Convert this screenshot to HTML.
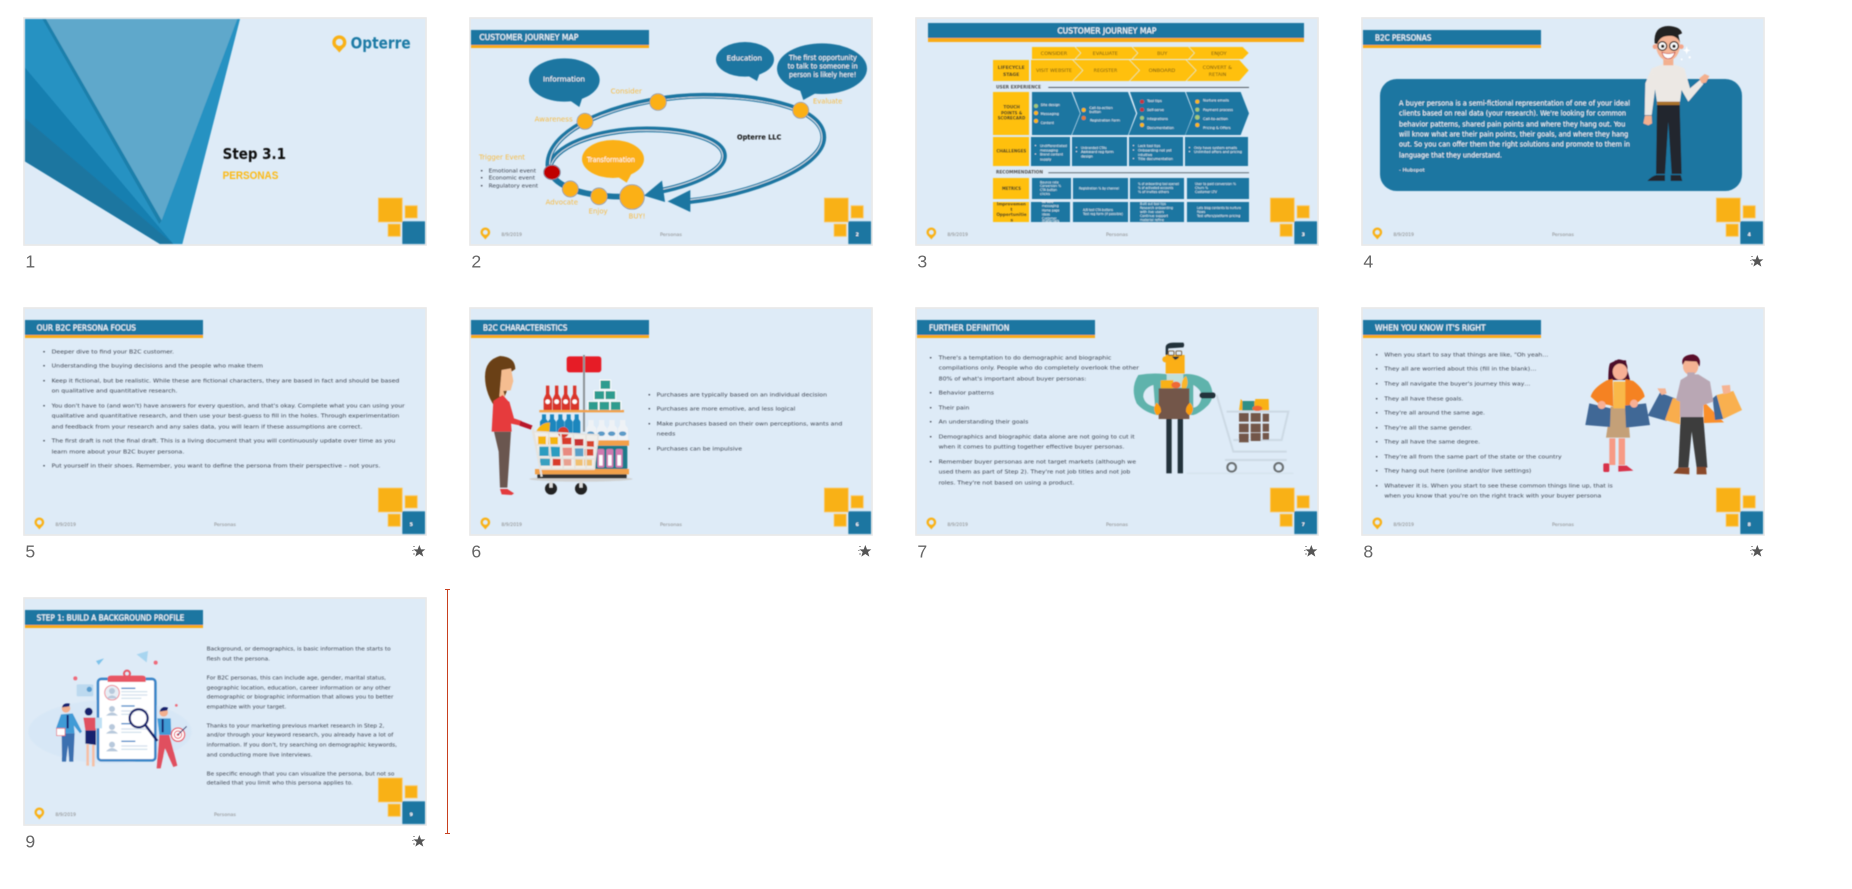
<!DOCTYPE html>
<html><head><meta charset="utf-8"><title>Slides</title>
<style>
html,body{margin:0;padding:0;background:#fff;width:1852px;height:889px;overflow:hidden}
svg{display:block}
text{font-family:"DejaVu Sans","Liberation Sans",sans-serif}
.b{font-size:17px;fill:#3c4350}
.t{font-size:24px;fill:#f2f8fc;stroke:#f2f8fc;stroke-width:.5}
.n{font-family:"Liberation Sans",sans-serif;font-size:53px;fill:#666}
.f{font-size:14px;fill:#888}
.o{font-size:22px;fill:#f7bb45}
.w{font-size:22px;fill:#fff}
.y{font-size:14px;fill:#6e5410}
.k{font-size:14px;fill:#3a3a20;font-weight:bold}
.c{font-size:11px;fill:#fff}
.g{font-size:14px;fill:#555;font-weight:bold}
</style></head><body>
<svg xmlns="http://www.w3.org/2000/svg" width="1852" height="889" viewBox="0 0 1852 889">
<defs>
<filter id="s" x="-2%" y="-2%" width="104%" height="104%"><feGaussianBlur stdDeviation="1.3"/></filter>
<g id="bg"><rect x="-3" y="-3" width="1206" height="681" fill="#deebf7" stroke="#e9e9e9" stroke-width="5"/></g>
<g id="sq">
<rect x="1060" y="537" width="72" height="72" fill="#f9b118" stroke="#fbcb6a" stroke-width="2"/>
<rect x="1140" y="560" width="37" height="37" fill="#f9b118" stroke="#fbcb6a" stroke-width="2"/>
<rect x="1089" y="615" width="37" height="37" fill="#f9b118" stroke="#fbcb6a" stroke-width="2"/>
<rect x="1132" y="607" width="68" height="68" fill="#1b76a1"/>
</g>
<g id="pin"><circle cx="0" cy="0" r="11" fill="none" stroke="#f9b118" stroke-width="7"/><path d="M-9 11 L9 11 L0 21 Z" fill="#f9b118"/></g>
<g id="star"><path d="M0 -19 L5 -6 L18 -6 L8 2 L12 16 L0 8 L-12 16 L-8 2 L-18 -6 L-5 -6 Z" fill="#555"/><path d="M-19 -14h6M-22 -3h5M-19 8h6" stroke="#666" stroke-width="2"/></g>
<g id="ttl"><rect x="0" y="33" width="534" height="45" fill="#1b76a1"/><rect x="0" y="78" width="534" height="9" fill="#f9ab14"/></g>
</defs>
<rect width="1852" height="889" fill="#fff"/>

<!-- SLIDE 1 -->
<g transform="translate(0,0) scale(.33333)">
<use href="#bg" x="75" y="57"/>
<g filter="url(#s)">
<polygon points="75,57 75,484 480,732 547,732 720,57" fill="#2692c2"/>
<polygon points="75,203 75,484 480,732 520,732" fill="#177fb0"/>
<polygon points="75,355 75,484 480,732 520,732" fill="#1e76a0"/>
<polygon points="127,57 138,57 485,661 478,672" fill="#1f80ab"/>
<polygon points="138,57 712,57 485,661" fill="#5fa8cb"/>
<use href="#pin" transform="translate(1018,127) scale(1.45)"/>
<text x="1052" y="145" textLength="180" lengthAdjust="spacingAndGlyphs" style="font-size:48px;font-weight:bold;fill:#1d7aa5">Opterre</text>
<text x="668" y="477" textLength="190" lengthAdjust="spacingAndGlyphs" style="font-size:46px;font-weight:bold;fill:#111">Step 3.1</text>
<text x="668" y="537" textLength="167" lengthAdjust="spacingAndGlyphs" style="font-family:'Liberation Sans',sans-serif;font-size:32px;font-weight:bold;fill:#fdb913">PERSONAS</text>
<use href="#sq" x="75" y="57"/>
</g>
<text x="76" y="802" class="n">1</text>
</g>

<!-- SLIDE 2 -->
<g transform="translate(450,0) scale(.33333)">
<use href="#bg" x="63" y="57"/>
<g filter="url(#s)">
<use href="#ttl" x="63" y="57"/>
<text x="88" y="120" class="t" textLength="297" lengthAdjust="spacingAndGlyphs">CUSTOMER JOURNEY MAP</text>
<g fill="none" stroke="#1b76a1" stroke-width="17">
<path d="M715 604 C900 585 1120 500 1120 412 C1120 330 960 287 760 287 C560 287 295 370 295 495 C300 560 400 590 520 590"/>
<path d="M635 572 C740 550 822 510 822 468 C822 420 720 388 590 388 C440 388 300 440 297 510"/>
</g>
<g fill="none" stroke="#fff" stroke-width="2.2">
<path transform="translate(706 440) scale(.99 .975) translate(-706 -440)" d="M715 604 C900 585 1120 500 1120 412 C1120 330 960 287 760 287 C560 287 295 370 295 495"/>
<path transform="translate(560 480) scale(.985 .965) translate(-560 -480)" d="M635 572 C740 550 822 510 822 468 C822 420 720 388 590 388 C440 388 300 440 297 510"/>
</g>
<polygon points="653,604 721,570 721,636" fill="#1b76a1"/>
<polygon points="582,587 636,542 645,606" fill="#1b76a1"/>
<g fill="#fbb017" stroke="#6c8ea4" stroke-width="2">
<circle cx="405" cy="364" r="24"/><circle cx="624" cy="306" r="25"/><circle cx="1052" cy="331" r="24"/>
<circle cx="361" cy="567" r="24"/><circle cx="447" cy="589" r="25"/><circle cx="546" cy="591" r="37"/>
</g>
<ellipse cx="306" cy="517" rx="25" ry="22" fill="#c00000" stroke="#6c8ea4" stroke-width="2"/>
<g fill="#1b76a1">
<ellipse cx="343" cy="240" rx="106" ry="65"/><polygon points="355,298 398,290 388,321"/>
<ellipse cx="885" cy="178" rx="87" ry="52"/><polygon points="890,225 930,218 921,243"/>
<ellipse cx="1116" cy="206" rx="135" ry="76"/><polygon points="1050,270 1100,278 1060,300"/>
</g>
<ellipse cx="489" cy="477" rx="93" ry="57" fill="#fbb017"/><polygon points="495,525 545,520 530,548" fill="#fbb017"/>
<text x="279" y="245" class="w" textLength="126" lengthAdjust="spacingAndGlyphs">Information</text>
<text x="830" y="182" class="w" textLength="106" lengthAdjust="spacingAndGlyphs">Education</text>
<text x="1017" y="180" class="w" textLength="204" lengthAdjust="spacingAndGlyphs">The first opportunity</text>
<text x="1013" y="205" class="w" textLength="210" lengthAdjust="spacingAndGlyphs">to talk to someone in</text>
<text x="1017" y="231" class="w" textLength="202" lengthAdjust="spacingAndGlyphs">person is likely here!</text>
<text x="411" y="486" class="w" textLength="144" lengthAdjust="spacingAndGlyphs">Transformation</text>
<text x="482" y="281" class="o" textLength="94" lengthAdjust="spacingAndGlyphs">Consider</text>
<text x="1089" y="311" class="o" textLength="88" lengthAdjust="spacingAndGlyphs">Evaluate</text>
<text x="254" y="365" class="o" textLength="114" lengthAdjust="spacingAndGlyphs">Awareness</text>
<text x="87" y="479" class="o" textLength="138" lengthAdjust="spacingAndGlyphs">Trigger Event</text>
<text x="287" y="614" class="o" textLength="97" lengthAdjust="spacingAndGlyphs">Advocate</text>
<text x="416" y="641" class="o" textLength="57" lengthAdjust="spacingAndGlyphs">Enjoy</text>
<text x="536" y="656" class="o" textLength="50" lengthAdjust="spacingAndGlyphs">BUY!</text>
<text x="861" y="419" textLength="133" lengthAdjust="spacingAndGlyphs" style="font-size:22px;font-weight:bold;fill:#111">Opterre LLC</text>
<text x="90" y="518" class="b">•</text><text x="90" y="539" class="b">•</text><text x="90" y="563" class="b">•</text>
<text x="116" y="518" class="b" textLength="142" lengthAdjust="spacingAndGlyphs">Emotional event</text>
<text x="116" y="539" class="b" textLength="139" lengthAdjust="spacingAndGlyphs">Economic event</text>
<text x="116" y="563" class="b" textLength="148" lengthAdjust="spacingAndGlyphs">Regulatory event</text>
<g transform="translate(63,57)">
<use href="#sq"/><use href="#pin" transform="translate(43,640)"/>
<text x="91" y="651" class="f" textLength="62" lengthAdjust="spacingAndGlyphs">8/9/2019</text>
<text x="567" y="651" class="f" textLength="66" lengthAdjust="spacingAndGlyphs">Personas</text>
<text x="1154" y="651" class="f" style="fill:#fff;font-weight:bold">2</text>
</g>
</g>
<text x="64" y="802" class="n">2</text>
</g>

<!-- SLIDE 3 -->
<g transform="translate(900,0) scale(.33333)">
<use href="#bg" x="51" y="57"/>
<g filter="url(#s)">
<rect x="84" y="69" width="1128" height="45" fill="#1b76a1"/><rect x="84" y="114" width="1128" height="12" fill="#f9ab14"/>
<text x="472" y="101" class="t" textLength="297" lengthAdjust="spacingAndGlyphs">CUSTOMER JOURNEY MAP</text>
<g fill="#ffc00d">
<polygon points="396,141 524,141 541,159 524,177 396,177"/>
<polygon points="527,141 695,141 712,159 695,177 527,177 544,159"/>
<polygon points="698,141 865,141 882,159 865,177 698,177 715,159"/>
<polygon points="868,141 1028,141 1046,159 1028,177 868,177 885,159"/>
<rect x="279" y="180" width="108" height="63"/>
<polygon points="393,180 517,180 547,211 517,243 393,243"/>
<polygon points="520,180 687,180 717,211 687,243 520,243 550,211"/>
<polygon points="690,180 857,180 887,211 857,243 690,243 720,211"/>
<polygon points="860,180 1018,180 1046,211 1018,243 860,243 890,211"/>
<rect x="279" y="276" width="108" height="129"/>
<rect x="279" y="411" width="108" height="87"/>
<rect x="279" y="534" width="108" height="63"/>
<rect x="279" y="606" width="108" height="60"/>
</g>
<text x="422" y="165" class="y" textLength="80" lengthAdjust="spacingAndGlyphs">CONSIDER</text>
<text x="578" y="165" class="y" textLength="76" lengthAdjust="spacingAndGlyphs">EVALUATE</text>
<text x="771" y="165" class="y" textLength="31" lengthAdjust="spacingAndGlyphs">BUY</text>
<text x="933" y="165" class="y" textLength="47" lengthAdjust="spacingAndGlyphs">ENJOY</text>
<text x="408" y="216" class="y" textLength="108" lengthAdjust="spacingAndGlyphs">VISIT WEBSITE</text>
<text x="581" y="216" class="y" textLength="71" lengthAdjust="spacingAndGlyphs">REGISTER</text>
<text x="746" y="216" class="y" textLength="80" lengthAdjust="spacingAndGlyphs">ONBOARD</text>
<text x="908" y="207" class="y" textLength="88" lengthAdjust="spacingAndGlyphs">CONVERT &amp;</text>
<text x="926" y="228" class="y" textLength="53" lengthAdjust="spacingAndGlyphs">RETAIN</text>
<text x="293" y="207" class="k" textLength="81" lengthAdjust="spacingAndGlyphs">LIFECYCLE</text>
<text x="309" y="228" class="k" textLength="49" lengthAdjust="spacingAndGlyphs">STAGE</text>
<text x="288" y="266" class="g" textLength="135" lengthAdjust="spacingAndGlyphs">USER EXPERIENCE</text>
<rect x="445" y="261" width="602" height="2.5" fill="#39414a"/>
<text x="310" y="326" class="k" textLength="50" lengthAdjust="spacingAndGlyphs">TOUCH</text>
<text x="303" y="344" class="k" textLength="64" lengthAdjust="spacingAndGlyphs">POINTS &amp;</text>
<text x="293" y="359" class="k" textLength="83" lengthAdjust="spacingAndGlyphs">SCORECARD</text>
<g fill="#1b76a1">
<polygon points="396,276 514,276 540,340 514,405 396,405"/>
<polygon points="518,276 684,276 708,340 684,405 516,405 542,340"/>
<polygon points="690,276 855,276 880,340 855,405 686,405 712,340"/>
<polygon points="858,276 1022,276 1047,340 1022,405 856,405 882,340"/>
<rect x="393" y="411" width="117" height="87"/><rect x="516" y="411" width="165" height="87"/><rect x="687" y="411" width="162" height="87"/><rect x="855" y="411" width="189" height="87"/>
<rect x="396" y="534" width="117" height="63"/><rect x="519" y="534" width="165" height="63"/><rect x="690" y="534" width="162" height="63"/><rect x="861" y="534" width="186" height="63"/>
<rect x="393" y="606" width="117" height="60"/><rect x="519" y="606" width="165" height="60"/><rect x="690" y="606" width="162" height="60"/><rect x="861" y="606" width="186" height="60"/>
</g>
<g>
<circle cx="408" cy="318" r="6" fill="#a5c878"/><circle cx="408" cy="339" r="6" fill="#fdb913"/><circle cx="408" cy="363" r="6" fill="#fdb913"/>
<circle cx="551" cy="330" r="6" fill="#fdb913"/><circle cx="551" cy="354" r="6" fill="#e67a30"/>
<circle cx="726" cy="305" r="6" fill="#c9353c"/><circle cx="726" cy="329" r="6" fill="#c9353c"/><circle cx="726" cy="354" r="6" fill="#a5c878"/><circle cx="726" cy="375" r="6" fill="#fdb913"/>
<circle cx="892" cy="305" r="6" fill="#fdb913"/><circle cx="892" cy="329" r="6" fill="#a5c878"/><circle cx="892" cy="352" r="7" fill="#a5c878"/><circle cx="892" cy="375" r="6" fill="#fdb913"/>
</g>
<g>
<text x="422" y="318" class="c" textLength="58" lengthAdjust="spacingAndGlyphs">Site design</text>
<text x="422" y="345" class="c" textLength="55" lengthAdjust="spacingAndGlyphs">Messaging</text>
<text x="422" y="372" class="c" textLength="40" lengthAdjust="spacingAndGlyphs">Content</text>
<text x="568" y="327" class="c" textLength="70" lengthAdjust="spacingAndGlyphs">Call-to-action</text>
<text x="568" y="339" class="c" textLength="35" lengthAdjust="spacingAndGlyphs">button</text>
<text x="570" y="365" class="c" textLength="90" lengthAdjust="spacingAndGlyphs">Registration Form</text>
<text x="741" y="306" class="c" textLength="45" lengthAdjust="spacingAndGlyphs">Tool tips</text>
<text x="741" y="333" class="c" textLength="51" lengthAdjust="spacingAndGlyphs">Self-serve</text>
<text x="741" y="360" class="c" textLength="63" lengthAdjust="spacingAndGlyphs">Integrations</text>
<text x="741" y="387" class="c" textLength="81" lengthAdjust="spacingAndGlyphs">Documentation</text>
<text x="909" y="305" class="c" textLength="78" lengthAdjust="spacingAndGlyphs">Nurture emails</text>
<text x="909" y="333" class="c" textLength="90" lengthAdjust="spacingAndGlyphs">Payment process</text>
<text x="909" y="360" class="c" textLength="75" lengthAdjust="spacingAndGlyphs">Call-to-action</text>
<text x="909" y="387" class="c" textLength="83" lengthAdjust="spacingAndGlyphs">Pricing &amp; Offers</text>
<text x="403" y="441" class="c">•</text><text x="403" y="467" class="c">•</text>
<text x="420" y="441" class="c" textLength="81" lengthAdjust="spacingAndGlyphs">Undifferentiated</text>
<text x="420" y="454" class="c" textLength="54" lengthAdjust="spacingAndGlyphs">messaging</text>
<text x="420" y="467" class="c" textLength="69" lengthAdjust="spacingAndGlyphs">Brand content</text>
<text x="420" y="481" class="c" textLength="34" lengthAdjust="spacingAndGlyphs">supply</text>
<text x="526" y="447" class="c">•</text><text x="526" y="459" class="c">•</text>
<text x="543" y="447" class="c" textLength="77" lengthAdjust="spacingAndGlyphs">Unbranded CTAs</text>
<text x="543" y="459" class="c" textLength="98" lengthAdjust="spacingAndGlyphs">Awkward reg form</text>
<text x="543" y="473" class="c" textLength="36" lengthAdjust="spacingAndGlyphs">design</text>
<text x="697" y="441" class="c">•</text><text x="697" y="454" class="c">•</text><text x="697" y="480" class="c">•</text>
<text x="714" y="441" class="c" textLength="67" lengthAdjust="spacingAndGlyphs">Lack tool tips</text>
<text x="714" y="454" class="c" textLength="101" lengthAdjust="spacingAndGlyphs">Onboarding not yet</text>
<text x="714" y="468" class="c" textLength="43" lengthAdjust="spacingAndGlyphs">intuitive</text>
<text x="714" y="480" class="c" textLength="105" lengthAdjust="spacingAndGlyphs">Title documentation</text>
<text x="865" y="447" class="c">•</text><text x="865" y="459" class="c">•</text>
<text x="882" y="447" class="c" textLength="129" lengthAdjust="spacingAndGlyphs">Only have system emails</text>
<text x="882" y="459" class="c" textLength="144" lengthAdjust="spacingAndGlyphs">Unlimited offers and pricing</text>
<text x="420" y="550" class="c" textLength="56" lengthAdjust="spacingAndGlyphs">Bounce rate</text>
<text x="420" y="561" class="c" textLength="63" lengthAdjust="spacingAndGlyphs">Conversion %</text>
<text x="420" y="573" class="c" textLength="51" lengthAdjust="spacingAndGlyphs">CTA button</text>
<text x="420" y="585" class="c" textLength="30" lengthAdjust="spacingAndGlyphs">clicks</text>
<text x="537" y="568" class="c" textLength="120" lengthAdjust="spacingAndGlyphs">Registration % by channel</text>
<text x="714" y="555" class="c" textLength="123" lengthAdjust="spacingAndGlyphs">% of onboarding tool opened</text>
<text x="714" y="567" class="c" textLength="106" lengthAdjust="spacingAndGlyphs">% of activated accounts</text>
<text x="714" y="579" class="c" textLength="93" lengthAdjust="spacingAndGlyphs">% of invites others</text>
<text x="885" y="555" class="c" textLength="123" lengthAdjust="spacingAndGlyphs">User to paid conversion %</text>
<text x="885" y="567" class="c" textLength="39" lengthAdjust="spacingAndGlyphs">Churn %</text>
<text x="885" y="579" class="c" textLength="66" lengthAdjust="spacingAndGlyphs">Customer LTV</text>
<text x="426" y="609" class="c" textLength="34" lengthAdjust="spacingAndGlyphs">Be sure</text>
<text x="426" y="621" class="c" textLength="50" lengthAdjust="spacingAndGlyphs">messaging</text>
<text x="426" y="634" class="c" textLength="52" lengthAdjust="spacingAndGlyphs">Home page</text>
<text x="426" y="646" class="c" textLength="24" lengthAdjust="spacingAndGlyphs">ideas</text>
<text x="426" y="658" class="c" textLength="44" lengthAdjust="spacingAndGlyphs">Customer</text>
<text x="426" y="666" class="c" textLength="52" lengthAdjust="spacingAndGlyphs">materials</text>
<text x="549" y="633" class="c" textLength="90" lengthAdjust="spacingAndGlyphs">A/B test CTA buttons</text>
<text x="549" y="645" class="c" textLength="120" lengthAdjust="spacingAndGlyphs">Test reg form (if possible)</text>
<text x="720" y="615" class="c" textLength="78" lengthAdjust="spacingAndGlyphs">Built out tool tips</text>
<text x="720" y="627" class="c" textLength="99" lengthAdjust="spacingAndGlyphs">Research onboarding</text>
<text x="720" y="639" class="c" textLength="72" lengthAdjust="spacingAndGlyphs">with live users</text>
<text x="720" y="651" class="c" textLength="84" lengthAdjust="spacingAndGlyphs">Continue support</text>
<text x="720" y="663" class="c" textLength="72" lengthAdjust="spacingAndGlyphs">material refine</text>
<text x="891" y="627" class="c" textLength="132" lengthAdjust="spacingAndGlyphs">Lets blog contents to nurture</text>
<text x="891" y="639" class="c" textLength="25" lengthAdjust="spacingAndGlyphs">flows</text>
<text x="891" y="651" class="c" textLength="130" lengthAdjust="spacingAndGlyphs">Test offers/platform pricing</text>
</g>
<text x="288" y="521" class="g" textLength="141" lengthAdjust="spacingAndGlyphs">RECOMMENDATION</text>
<rect x="445" y="517" width="602" height="2.5" fill="#4d5660"/>
<text x="289" y="458" class="k" textLength="90" lengthAdjust="spacingAndGlyphs">CHALLENGES</text>
<text x="306" y="570" class="k" textLength="57" lengthAdjust="spacingAndGlyphs">METRICS</text>
<text x="290" y="616" class="k" textLength="88" lengthAdjust="spacingAndGlyphs">Improvemen</text>
<text x="331" y="633" class="k">t</text>
<text x="289" y="648" class="k" textLength="91" lengthAdjust="spacingAndGlyphs">Opportunitie</text>
<text x="331" y="665" class="k">s</text>
<g transform="translate(51,57)">
<use href="#sq"/><use href="#pin" transform="translate(43,640)"/>
<text x="91" y="651" class="f" textLength="62" lengthAdjust="spacingAndGlyphs">8/9/2019</text>
<text x="567" y="651" class="f" textLength="66" lengthAdjust="spacingAndGlyphs">Personas</text>
<text x="1154" y="651" class="f" style="fill:#fff;font-weight:bold">3</text>
</g>
</g>
<text x="52" y="802" class="n">3</text>
</g>

<!-- SLIDE 4 -->
<g transform="translate(1350,0) scale(.33333)">
<use href="#bg" x="39" y="57"/>
<g filter="url(#s)">
<use href="#ttl" x="39" y="57"/>
<text x="75" y="122" class="t" textLength="169" lengthAdjust="spacingAndGlyphs">B2C PERSONAS</text>
<rect x="90" y="237" width="1086" height="336" rx="50" fill="#1b76a1"/>
<text x="147" y="317" class="w" style="font-size:20px" textLength="693" lengthAdjust="spacingAndGlyphs">A buyer persona is a semi-fictional representation of one of your ideal</text>
<text x="147" y="347" class="w" style="font-size:20px" textLength="681" lengthAdjust="spacingAndGlyphs">clients based on real data (your research). We're looking for common</text>
<text x="147" y="380" class="w" style="font-size:20px" textLength="679" lengthAdjust="spacingAndGlyphs">behavior patterns, shared pain points and where they hang out.  You</text>
<text x="147" y="410" class="w" style="font-size:20px" textLength="688" lengthAdjust="spacingAndGlyphs">will know what are their pain points, their goals, and where they hang</text>
<text x="147" y="440" class="w" style="font-size:20px" textLength="693" lengthAdjust="spacingAndGlyphs">out. So you can offer them the right solutions and promote to them in</text>
<text x="147" y="473" class="w" style="font-size:20px" textLength="309" lengthAdjust="spacingAndGlyphs">language that they understand.</text>
<text x="147" y="515" class="c" style="font-size:14px" textLength="77" lengthAdjust="spacingAndGlyphs">- Hubspot</text>
<!-- man -->
<polygon points="921,312 989,312 995,522 965,522 955,365 945,522 918,522" fill="#20262f"/>
<path d="M892 543 Q905 528 920 525 L945 525 L945 543 Z M962 525 L992 525 L997 543 L962 543 Z" fill="#20262f"/>
<rect x="921" y="304" width="68" height="11" fill="#a8722c"/>
<polygon points="905,205 940,192 970,192 1003,205 990,305 921,305" fill="#ece8e4"/>
<polygon points="905,205 886,250 884,345 905,345 916,262" fill="#ece8e4"/>
<polygon points="1003,205 1020,265 1050,240 1060,252 1015,305 990,262" fill="#ece8e4"/>
<path d="M885 347 L905 347 L906 370 L895 376 L880 370 Z" fill="#f3b08f"/>
<path d="M1048 235 L1064 222 L1078 228 L1068 248 L1055 250 Z" fill="#f3b08f"/>
<rect x="940" y="172" width="30" height="24" fill="#f3b08f"/>
<ellipse cx="954" cy="135" rx="36" ry="47" fill="#f5b597"/>
<circle cx="915" cy="140" r="7" fill="#f3a58a"/><circle cx="994" cy="140" r="7" fill="#f3a58a"/>
<path d="M914 130 Q910 78 956 78 Q992 80 996 100 L985 105 L990 128 Q980 105 955 108 Q930 108 922 132 Z" fill="#222"/>
<circle cx="937" cy="138" r="13" fill="#fff" stroke="#3a2a25" stroke-width="4"/><circle cx="972" cy="138" r="13" fill="#fff" stroke="#3a2a25" stroke-width="4"/>
<circle cx="938" cy="139" r="5" fill="#222"/><circle cx="972" cy="139" r="5" fill="#222"/>
<path d="M936 157 Q955 165 975 157 Q968 178 952 176 Q940 174 936 157 Z" fill="#fff" stroke="#b33" stroke-width="2"/>
<path d="M1010 138 L1013 148 L1022 151 L1013 154 L1010 164 L1007 154 L998 151 L1007 148 Z" fill="#fff"/>
<circle cx="995" cy="178" r="3" fill="#fff"/><circle cx="1019" cy="172" r="3.5" fill="#fff"/>
<g transform="translate(39,57)">
<use href="#sq"/><use href="#pin" transform="translate(43,640)"/>
<text x="91" y="651" class="f" textLength="62" lengthAdjust="spacingAndGlyphs">8/9/2019</text>
<text x="567" y="651" class="f" textLength="66" lengthAdjust="spacingAndGlyphs">Personas</text>
<text x="1154" y="651" class="f" style="fill:#fff;font-weight:bold">4</text>
</g>
</g>
<text x="40" y="802" class="n">4</text>
<use href="#star" x="1222" y="784"/>
</g>

<!-- SLIDE 5 -->
<g transform="translate(0,295) scale(.33333)">
<use href="#bg" x="75" y="42"/>
<g filter="url(#s)">
<use href="#ttl" x="75" y="42"/>
<text x="110" y="107" class="t" textLength="298" lengthAdjust="spacingAndGlyphs">OUR B2C PERSONA FOCUS</text>
<text x="127" y="176" class="b">•</text><text x="127" y="218" class="b">•</text><text x="127" y="263" class="b">•</text><text x="127" y="338" class="b">•</text><text x="127" y="443" class="b">•</text><text x="127" y="518" class="b">•</text>
<text x="155" y="176" class="b" textLength="367" lengthAdjust="spacingAndGlyphs">Deeper dive to find your B2C customer.</text>
<text x="155" y="218" class="b" textLength="634" lengthAdjust="spacingAndGlyphs">Understanding the buying decisions and the people who make them</text>
<text x="155" y="263" class="b" textLength="1043" lengthAdjust="spacingAndGlyphs">Keep it fictional, but be realistic. While these are fictional characters, they are based in fact and should be based</text>
<text x="155" y="293" class="b" textLength="377" lengthAdjust="spacingAndGlyphs">on qualitative and quantitative research.</text>
<text x="155" y="338" class="b" textLength="1059" lengthAdjust="spacingAndGlyphs">You don't have to (and won't) have answers for every question, and that's okay. Complete what you can using your</text>
<text x="155" y="368" class="b" textLength="1043" lengthAdjust="spacingAndGlyphs">qualitative and quantitative research, and then use your best-guess to fill in the holes. Through experimentation</text>
<text x="155" y="401" class="b" textLength="932" lengthAdjust="spacingAndGlyphs">and feedback from your research and any sales data, you will learn if these assumptions are correct.</text>
<text x="155" y="443" class="b" textLength="1031" lengthAdjust="spacingAndGlyphs">The first draft is not the final draft. This is a living document that you will continuously update over time as you</text>
<text x="155" y="476" class="b" textLength="398" lengthAdjust="spacingAndGlyphs">learn more about your B2C buyer persona.</text>
<text x="155" y="518" class="b" textLength="986" lengthAdjust="spacingAndGlyphs">Put yourself in their shoes. Remember, you want to define the persona from their perspective – not yours.</text>
<g transform="translate(75,42)">
<use href="#sq"/><use href="#pin" transform="translate(43,640)"/>
<text x="91" y="651" class="f" textLength="62" lengthAdjust="spacingAndGlyphs">8/9/2019</text>
<text x="567" y="651" class="f" textLength="66" lengthAdjust="spacingAndGlyphs">Personas</text>
<text x="1154" y="651" class="f" style="fill:#fff;font-weight:bold">5</text>
</g>
</g>
<text x="76" y="787" class="n">5</text>
<use href="#star" x="1258" y="769"/>
</g>

<!-- SLIDE 6 -->
<g transform="translate(450,295) scale(.33333)">
<use href="#bg" x="63" y="42"/>
<g filter="url(#s)">
<use href="#ttl" x="63" y="42"/>
<text x="99" y="107" class="t" textLength="253" lengthAdjust="spacingAndGlyphs">B2C CHARACTERISTICS</text>
<ellipse cx="393" cy="552" rx="155" ry="8" fill="#cfd0d0"/>
<rect x="350" y="184" width="104" height="48" rx="8" fill="#e61e25"/>
<rect x="399" y="180" width="6" height="230" fill="#8d9499"/>
<g fill="#d9352a">
<path d="M288 272h10v25l8 15v33h-25v-33l7-15z"/><path d="M315 272h10v25l8 15v33h-25v-33l7-15z"/><path d="M342 272h10v25l8 15v33h-25v-33l7-15z"/><path d="M369 272h10v25l8 15v33h-25v-33l7-15z"/>
</g>
<g fill="#fff"><circle cx="293" cy="320" r="7"/><circle cx="320" cy="320" r="7"/><circle cx="347" cy="320" r="7"/><circle cx="374" cy="320" r="7"/></g>
<g fill="#2d9c8f" stroke="#fff" stroke-width="3">
<rect x="450" y="255" width="32" height="28"/><rect x="432" y="287" width="32" height="27"/><rect x="465" y="287" width="32" height="27"/>
<rect x="414" y="319" width="31" height="27"/><rect x="447" y="319" width="32" height="27"/><rect x="481" y="319" width="32" height="27"/>
</g>
<rect x="268" y="345" width="254" height="7" fill="#f2a04a"/>
<g fill="#1f86bd"><path d="M276 358h12v14l6 8v40h-24v-40l6-8z"/><path d="M300 358h12v14l6 8v40h-24v-40l6-8z"/><path d="M325 358h12v14l6 8v40h-24v-40l6-8z"/><path d="M350 358h12v14l6 8v40h-24v-40l6-8z"/><path d="M374 358h12v14l5 8v40h-22v-40l5-8z"/></g>
<g fill="#eef2f6"><path d="M415 375h16v15l8 10v36h-30v-36l6-10z"/><path d="M447 375h16v15l8 10v36h-30v-36l6-10z"/><path d="M478 375h16v15l8 10v36h-30v-36l6-10z"/><path d="M510 375h16v15l8 10v36h-30v-36l6-10z"/></g>
<g fill="#5b9bc8"><ellipse cx="422" cy="416" rx="11" ry="7"/><ellipse cx="454" cy="416" rx="11" ry="7"/><ellipse cx="485" cy="416" rx="11" ry="7"/><ellipse cx="518" cy="416" rx="11" ry="7"/></g>
<rect x="440" y="436" width="97" height="16" fill="#f2a04a"/>
<rect x="436" y="452" width="96" height="70" fill="#1d7a8a"/>
<g fill="#d07ab0"><rect x="442" y="462" width="21" height="56" rx="5"/><rect x="469" y="462" width="21" height="56" rx="5"/><rect x="497" y="462" width="21" height="56" rx="5"/></g>
<g fill="#fff"><rect x="447" y="480" width="11" height="32"/><rect x="474" y="480" width="11" height="32"/><rect x="502" y="480" width="11" height="32"/></g>
<rect x="255" y="522" width="282" height="16" fill="#f2a04a"/>
<rect x="262" y="538" width="268" height="12" fill="#333"/>
<g><circle cx="303" cy="581" r="18" fill="#222"/><circle cx="393" cy="581" r="18" fill="#222"/><rect x="298" y="560" width="10" height="18" fill="#ddd"/><rect x="388" y="560" width="10" height="18" fill="#ddd"/></g>
<polygon points="248,410 445,420 432,522 272,522" fill="#f0eeea"/>
<path d="M258 410 Q275 380 300 383 L298 412 Z" fill="#f5b50f"/>
<circle cx="340" cy="412" r="16" fill="#d83a2c"/>
<g>
<rect x="264" y="424" width="24" height="24" fill="#f5b50f"/><rect x="294" y="426" width="30" height="22" fill="#f5b50f"/><rect x="334" y="428" width="30" height="20" fill="#d83a2c"/><rect x="370" y="432" width="30" height="20" fill="#c83030"/><rect x="406" y="438" width="26" height="20" fill="#d8452e"/>
<rect x="268" y="455" width="28" height="28" fill="#2a9cc0"/><rect x="298" y="455" width="32" height="30" fill="#2a9cc0"/><rect x="336" y="458" width="30" height="24" fill="#e88a80"/><rect x="372" y="460" width="28" height="24" fill="#5aa0c8"/><rect x="404" y="462" width="26" height="20" fill="#d8452e"/>
<rect x="270" y="490" width="30" height="22" fill="#38a0c0"/><rect x="308" y="490" width="24" height="22" fill="#d83a2c"/><rect x="338" y="490" width="26" height="22" fill="#e8a090"/><rect x="372" y="490" width="26" height="22" fill="#f0c070"/><rect x="402" y="490" width="24" height="22" fill="#f0c070"/>
</g>
<g stroke="#e5e3df" stroke-width="5" fill="none"><polygon points="248,410 445,420 432,522 272,522"/><path d="M256 450L438 458M264 488L435 492M296 415L305 522M332 415L340 522M370 418L375 522M408 420L408 522"/></g>
<path d="M248 395 L275 545" stroke="#e5e3df" stroke-width="6"/>
<path d="M150 183 Q195 185 196 222 L170 240 L170 290 L145 350 Q105 300 105 245 Q105 195 150 183 Z" fill="#6b4012"/>
<path d="M155 225 L183 220 L190 258 L182 286 L160 288 L165 305 L148 305 Z" fill="#f5bd90"/>
<path d="M130 318 L158 300 L178 322 L185 410 L125 410 Z" fill="#e63a3c"/>
<polygon points="152,320 178,320 192,370 215,378 212,392 180,385" fill="#e63a3c"/>
<polygon points="212,378 248,392 243,404 208,392" fill="#b8132a"/>
<polygon points="132,410 183,410 172,578 150,578 146,470" fill="#6b5650"/>
<path d="M150 582 L172 582 L192 595 L185 600 L155 598 Z" fill="#e33b3e"/>
<text x="593" y="305" class="b">•</text><text x="593" y="347" class="b">•</text><text x="593" y="392" class="b">•</text><text x="593" y="467" class="b">•</text>
<text x="620" y="305" class="b" textLength="511" lengthAdjust="spacingAndGlyphs">Purchases are typically based on an individual decision</text>
<text x="620" y="347" class="b" textLength="416" lengthAdjust="spacingAndGlyphs">Purchases are more emotive, and less logical</text>
<text x="620" y="392" class="b" textLength="557" lengthAdjust="spacingAndGlyphs">Make purchases based on their own perceptions, wants and</text>
<text x="620" y="422" class="b" textLength="56" lengthAdjust="spacingAndGlyphs">needs</text>
<text x="620" y="467" class="b" textLength="256" lengthAdjust="spacingAndGlyphs">Purchases can be impulsive</text>
<g transform="translate(63,42)">
<use href="#sq"/><use href="#pin" transform="translate(43,640)"/>
<text x="91" y="651" class="f" textLength="62" lengthAdjust="spacingAndGlyphs">8/9/2019</text>
<text x="567" y="651" class="f" textLength="66" lengthAdjust="spacingAndGlyphs">Personas</text>
<text x="1154" y="651" class="f" style="fill:#fff;font-weight:bold">6</text>
</g>
</g>
<text x="64" y="787" class="n">6</text>
<use href="#star" x="1246" y="769"/>
</g>

<!-- SLIDE 7 -->
<g transform="translate(900,295) scale(.33333)">
<use href="#bg" x="51" y="42"/>
<g filter="url(#s)">
<use href="#ttl" x="51" y="42"/>
<text x="87" y="107" class="t" textLength="241" lengthAdjust="spacingAndGlyphs">FURTHER DEFINITION</text>
<text x="87" y="194" class="b">•</text><text x="87" y="299" class="b">•</text><text x="87" y="344" class="b">•</text><text x="87" y="386" class="b">•</text><text x="87" y="431" class="b">•</text><text x="87" y="506" class="b">•</text>
<text x="116" y="194" class="b" textLength="518" lengthAdjust="spacingAndGlyphs">There's a temptation to do demographic and biographic</text>
<text x="116" y="224" class="b" textLength="601" lengthAdjust="spacingAndGlyphs">compilations only.  People who do completely overlook the other</text>
<text x="116" y="257" class="b" textLength="443" lengthAdjust="spacingAndGlyphs">80% of what's important about buyer personas:</text>
<text x="116" y="299" class="b" textLength="166" lengthAdjust="spacingAndGlyphs">Behavior patterns</text>
<text x="116" y="344" class="b" textLength="92" lengthAdjust="spacingAndGlyphs">Their pain</text>
<text x="116" y="386" class="b" textLength="269" lengthAdjust="spacingAndGlyphs">An understanding their goals</text>
<text x="116" y="431" class="b" textLength="588" lengthAdjust="spacingAndGlyphs">Demographics and biographic data alone are not going to cut it</text>
<text x="116" y="461" class="b" textLength="557" lengthAdjust="spacingAndGlyphs">when it comes to putting together effective buyer personas.</text>
<text x="116" y="506" class="b" textLength="592" lengthAdjust="spacingAndGlyphs">Remember buyer personas are not target markets (although we</text>
<text x="116" y="536" class="b" textLength="575" lengthAdjust="spacingAndGlyphs">used them as part of Step 2). They're not job titles and not job</text>
<text x="116" y="569" class="b" textLength="407" lengthAdjust="spacingAndGlyphs">roles. They're not based on using a product.</text>
<g fill="none" stroke="#ccd9e4" stroke-width="6">
<path d="M950 300 L1000 470 L1160 470 M980 350 L1165 350 L1145 435 L1000 435 M975 495 L1160 495"/>
<path d="M860 535 L1180 535" stroke-width="4" stroke="#d6e3ee"/>
</g>
<circle cx="995" cy="517" r="13" fill="none" stroke="#6a6f72" stroke-width="6"/>
<circle cx="1136" cy="517" r="13" fill="none" stroke="#6a6f72" stroke-width="6"/>
<polygon points="1017,346 1022,312 1032,322 1065,318 1066,312 1106,312 1107,346" fill="#f9b118"/>
<rect x="1027" y="318" width="36" height="28" fill="#2e8f86"/><ellipse cx="1072" cy="340" rx="15" ry="8" fill="#ee6a35"/>
<g fill="#73564a">
<rect x="1017" y="354" width="29" height="26"/><rect x="1052" y="354" width="30" height="26"/><rect x="1088" y="356" width="19" height="24"/>
<rect x="1017" y="386" width="29" height="26"/><rect x="1052" y="386" width="30" height="26"/><rect x="1088" y="386" width="19" height="24"/>
<rect x="1017" y="416" width="29" height="26"/><rect x="1052" y="414" width="30" height="24"/><rect x="1088" y="414" width="19" height="20"/>
</g>
<rect x="799" y="370" width="16" height="165" fill="#23313a"/><rect x="833" y="370" width="16" height="165" fill="#23313a"/>
<path d="M715 240 Q760 232 800 238 L845 238 Q890 232 925 260 Q950 300 925 330 Q900 355 880 360 L770 360 Q730 350 710 325 Q690 280 715 240 Z" fill="#5fb3ac"/>
<path d="M760 270 Q730 280 730 305 Q735 330 765 335 Z" fill="#deebf7"/>
<path d="M880 270 Q905 285 905 305 Q900 335 880 338 Z" fill="#deebf7"/>
<rect x="800" y="238" width="50" height="40" fill="#bfe0dc"/>
<polygon points="782,256 820,255 820,280 782,280" fill="#f9b118"/>
<ellipse cx="828" cy="270" rx="14" ry="10" fill="#ee6a35"/><path d="M845 280 Q842 255 858 243 Q868 262 858 280 Z" fill="#fbb62a"/>
<polygon points="776,280 868,280 868,372 776,372" fill="#73564a"/>
<path d="M770 323 Q784 335 783 350 Q775 364 768 358 Q756 340 770 323 Z" fill="#fb9f0d"/>
<path d="M870 323 Q856 335 858 350 Q866 364 873 358 Q886 340 870 323 Z" fill="#fb9f0d"/>
<rect x="898" y="292" width="49" height="18" rx="9" fill="#23313a"/>
<rect x="797" y="180" width="57" height="56" fill="#fbaf17"/>
<circle cx="796" cy="193" r="9" fill="#fbaf17"/>
<path d="M797 180 L797 155 Q800 143 820 143 L850 143 Q855 150 850 157 L805 160 L803 180 Z" fill="#23313a"/>
<g fill="none" stroke="#6b4a20" stroke-width="2.5"><rect x="805" y="168" width="17" height="13" rx="3"/><rect x="828" y="168" width="17" height="13" rx="3"/></g>
<path d="M816 185 L838 185 Q832 195 824 194 Z" fill="#23313a"/>
<g transform="translate(51,42)">
<use href="#sq"/><use href="#pin" transform="translate(43,640)"/>
<text x="91" y="651" class="f" textLength="62" lengthAdjust="spacingAndGlyphs">8/9/2019</text>
<text x="567" y="651" class="f" textLength="66" lengthAdjust="spacingAndGlyphs">Personas</text>
<text x="1154" y="651" class="f" style="fill:#fff;font-weight:bold">7</text>
</g>
</g>
<text x="52" y="787" class="n">7</text>
<use href="#star" x="1234" y="769"/>
</g>

<!-- SLIDE 8 -->
<g transform="translate(1350,295) scale(.33333)">
<use href="#bg" x="39" y="42"/>
<g filter="url(#s)">
<use href="#ttl" x="39" y="42"/>
<text x="75" y="107" class="t" textLength="332" lengthAdjust="spacingAndGlyphs">WHEN YOU KNOW IT'S RIGHT</text>
<text x="75" y="185" class="b">•</text><text x="75" y="227" class="b">•</text><text x="75" y="272" class="b">•</text><text x="75" y="317" class="b">•</text><text x="75" y="359" class="b">•</text><text x="75" y="404" class="b">•</text><text x="75" y="446" class="b">•</text><text x="75" y="491" class="b">•</text><text x="75" y="533" class="b">•</text><text x="75" y="578" class="b">•</text>
<text x="103" y="185" class="b" textLength="492" lengthAdjust="spacingAndGlyphs">When you start to say that things are like, “Oh yeah…</text>
<text x="103" y="227" class="b" textLength="456" lengthAdjust="spacingAndGlyphs">They all are worried about this (fill in the blank)…</text>
<text x="103" y="272" class="b" textLength="438" lengthAdjust="spacingAndGlyphs">They all navigate the buyer's journey this way…</text>
<text x="103" y="317" class="b" textLength="237" lengthAdjust="spacingAndGlyphs">They all have these goals.</text>
<text x="103" y="359" class="b" textLength="302" lengthAdjust="spacingAndGlyphs">They're all around the same age.</text>
<text x="103" y="404" class="b" textLength="263" lengthAdjust="spacingAndGlyphs">They're all the same gender.</text>
<text x="103" y="446" class="b" textLength="287" lengthAdjust="spacingAndGlyphs">They all have the same degree.</text>
<text x="103" y="491" class="b" textLength="532" lengthAdjust="spacingAndGlyphs">They're all from the same part of the state or the country</text>
<text x="103" y="533" class="b" textLength="441" lengthAdjust="spacingAndGlyphs">They hang out here (online and/or live settings)</text>
<text x="103" y="578" class="b" textLength="685" lengthAdjust="spacingAndGlyphs">Whatever it is. When you start to see these common things line up, that is</text>
<text x="103" y="608" class="b" textLength="651" lengthAdjust="spacingAndGlyphs">when you know that you're on the right track with your buyer persona</text>
<path d="M805 193 Q835 195 832 225 L840 255 L775 255 Q775 215 780 205 Z" fill="#4d0f2b"/>
<ellipse cx="810" cy="230" rx="22" ry="24" fill="#f7b095"/>
<path d="M790 210 Q812 198 830 215 L828 196 L795 196 Z" fill="#4d0f2b"/>
<rect x="778" y="430" width="18" height="80" fill="#f79a85"/><rect x="806" y="430" width="19" height="80" fill="#f79a85"/>
<rect x="760" y="505" width="18" height="26" rx="4" fill="#d8304a"/><path d="M805 512 L830 512 L850 527 L805 530 Z" fill="#d8304a"/>
<polygon points="782,335 832,335 840,428 768,428" fill="#c4a078"/>
<path d="M790 260 L830 260 L828 340 L790 340 Z" fill="#f9b848"/>
<path d="M788 252 L770 256 Q728 280 722 305 L745 325 L778 330 L790 335 Z" fill="#f58220"/>
<path d="M826 252 L850 258 Q880 280 884 305 L860 325 L826 335 Z" fill="#f58220"/>
<polygon points="718,325 782,340 780,396 706,390" fill="#3f6796"/>
<polygon points="825,332 888,325 900,390 828,398" fill="#3f6796"/>
<circle cx="755" cy="330" r="12" fill="#f7b095"/><circle cx="852" cy="326" r="12" fill="#f7b095"/>
<polygon points="893,362 930,293 975,310 950,378" fill="#3f6796"/>
<polygon points="945,375 968,310 990,310 990,388" fill="#f9ad4d"/>
<polygon points="1060,318 1122,382 1062,384" fill="#fb8f2c"/>
<polygon points="1088,310 1100,300 1120,372 1095,375" fill="#3f6796"/>
<polygon points="1100,300 1150,288 1176,345 1120,372" fill="#f9b04f"/>
<path d="M1020 238 L1045 238 L1080 260 L1090 320 L1060 330 L1058 366 L990 366 L990 320 L978 315 L992 255 Z" fill="#b9a7b4"/>
<polygon points="992,366 1060,366 1072,518 1040,518 1025,410 1015,518 985,518" fill="#3e3e3e"/>
<path d="M970 535 L985 518 L1018 518 L1018 538 Z M1040 516 L1068 516 L1070 538 L1040 538 Z" fill="#8a4a2a"/>
<ellipse cx="1022" cy="214" rx="23" ry="26" fill="#f5b393"/>
<rect x="1012" y="232" width="22" height="14" fill="#b9a7b4"/>
<path d="M998 210 Q990 180 1030 178 Q1056 185 1048 215 L1040 200 L1005 198 Z" fill="#5a0f2c"/>
<path d="M922 280 L946 280 L950 295 L935 300 Z" fill="#f5b393"/><path d="M1115 272 L1140 270 L1142 292 L1120 298 Z" fill="#f5b393"/>
<g transform="translate(39,42)">
<use href="#sq"/><use href="#pin" transform="translate(43,640)"/>
<text x="91" y="651" class="f" textLength="62" lengthAdjust="spacingAndGlyphs">8/9/2019</text>
<text x="567" y="651" class="f" textLength="66" lengthAdjust="spacingAndGlyphs">Personas</text>
<text x="1154" y="651" class="f" style="fill:#fff;font-weight:bold">8</text>
</g>
</g>
<text x="40" y="787" class="n">8</text>
<use href="#star" x="1222" y="769"/>
</g>

<!-- SLIDE 9 -->
<g transform="translate(0,585) scale(.33333)">
<use href="#bg" x="75" y="42"/>
<g filter="url(#s)">
<use href="#ttl" x="75" y="42"/>
<text x="110" y="107" class="t" textLength="443" lengthAdjust="spacingAndGlyphs">STEP 1: BUILD A BACKGROUND PROFILE</text>
<ellipse cx="330" cy="440" rx="245" ry="95" fill="#d7e7f6"/>
<rect x="230" y="298" width="50" height="36" rx="4" fill="#bcd9ef"/><circle cx="268" cy="313" r="8" fill="#5c9fd0"/>
<polygon points="288,228 312,220 296,240" fill="#7fc3ea"/><polygon points="410,208 444,198 440,232" fill="#a8d5f0"/>
<circle cx="467" cy="233" r="6" fill="#ee6b7a"/><circle cx="226" cy="280" r="6" fill="#ee6b7a"/><circle cx="529" cy="361" r="4" fill="#ee6b7a"/>
<rect x="294" y="282" width="172" height="244" rx="10" fill="#fff" stroke="#3a86c8" stroke-width="8"/>
<path d="M323 291 L323 280 Q323 272 335 272 L425 272 Q437 272 437 280 L437 291 Z" fill="#e85464"/>
<circle cx="381" cy="266" r="9" fill="none" stroke="#e85464" stroke-width="6"/>
<g fill="#d4e2ee"><rect x="364" y="318" width="78" height="4"/><rect x="364" y="328" width="78" height="4"/><rect x="364" y="338" width="60" height="4"/>
<rect x="364" y="376" width="78" height="4"/><rect x="364" y="386" width="40" height="4"/><rect x="364" y="430" width="78" height="4"/><rect x="364" y="440" width="60" height="4"/>
<rect x="364" y="481" width="78" height="4"/><rect x="364" y="491" width="78" height="4"/></g>
<g fill="#3a86c8"><rect x="364" y="308" width="42" height="4"/><rect x="364" y="361" width="40" height="4"/><rect x="364" y="414" width="30" height="4"/><rect x="364" y="467" width="42" height="4"/></g>
<circle cx="336" cy="323" r="22" fill="#e7eef5" stroke="#ee8a96" stroke-width="3"/>
<g fill="#b8c9dc"><circle cx="336" cy="318" r="9"/><path d="M320 340 Q336 322 352 340 Z"/><circle cx="336" cy="372" r="9"/><path d="M318 392 Q336 372 354 392 Z"/><circle cx="336" cy="426" r="9"/><path d="M318 446 Q336 426 354 446 Z"/><circle cx="336" cy="479" r="9"/><path d="M318 499 Q336 479 354 499 Z"/></g>
<circle cx="416" cy="400" r="27" fill="#fff" fill-opacity=".5" stroke="#14236e" stroke-width="7"/>
<path d="M436 420 L472 468" stroke="#14236e" stroke-width="8"/>
<circle cx="198" cy="370" r="13" fill="#f3b08f"/><path d="M186 367 Q190 352 210 356 L208 364 Z" fill="#14236e"/>
<polygon points="183,388 218,385 224,445 185,445" fill="#3f9bd6"/><polygon points="218,385 246,440 240,445 214,412" fill="#3f9bd6"/><polygon points="183,388 168,430 182,436 190,410" fill="#3f9bd6"/>
<rect x="200" y="390" width="6" height="40" fill="#14236e"/>
<polygon points="185,445 224,445 220,530 208,530 204,480 198,530 186,530" fill="#3a70b0"/>
<rect x="170" y="430" width="25" height="22" fill="#fff" stroke="#e85464" stroke-width="2"/>
<circle cx="266" cy="380" r="12" fill="#14236e"/>
<polygon points="250,398 286,398 288,436 256,436" fill="#e0505e"/>
<polygon points="256,436 288,436 288,480 256,476" fill="#14236e"/>
<rect x="259" y="478" width="8" height="64" fill="#f5c0a5"/><rect x="276" y="480" width="8" height="64" fill="#f5c0a5"/>
<rect x="286" y="398" width="20" height="32" fill="#bfe0f4"/>
<circle cx="491" cy="382" r="13" fill="#f3b08f"/><path d="M479 380 Q482 362 504 368 L502 376 Z" fill="#14236e"/>
<polygon points="472,400 512,400 514,450 478,450" fill="#3f9bd6"/><rect x="485" y="402" width="6" height="40" fill="#14236e"/>
<polygon points="478,450 508,450 532,542 520,546 495,490 482,550 470,550" fill="#e0505e"/>
<circle cx="534" cy="449" r="20" fill="#fff" stroke="#e85464" stroke-width="4"/><circle cx="534" cy="449" r="11" fill="none" stroke="#e85464" stroke-width="3"/><circle cx="534" cy="449" r="4" fill="#e85464"/>
<path d="M534 449 L560 424" stroke="#14236e" stroke-width="3"/>
<text x="620" y="197" class="b" textLength="552" lengthAdjust="spacingAndGlyphs">Background, or demographics, is basic information the starts to</text>
<text x="620" y="227" class="b" textLength="190" lengthAdjust="spacingAndGlyphs">flesh out the persona.</text>
<text x="620" y="284" class="b" textLength="538" lengthAdjust="spacingAndGlyphs">For B2C personas, this can include age, gender, marital status,</text>
<text x="620" y="314" class="b" textLength="552" lengthAdjust="spacingAndGlyphs">geographic location, education, career information or any other</text>
<text x="620" y="341" class="b" textLength="560" lengthAdjust="spacingAndGlyphs">demographic or biographic information that allows you to better</text>
<text x="620" y="371" class="b" textLength="239" lengthAdjust="spacingAndGlyphs">empathize with your target.</text>
<text x="620" y="428" class="b" textLength="533" lengthAdjust="spacingAndGlyphs">Thanks to your marketing previous market research in Step 2,</text>
<text x="620" y="455" class="b" textLength="560" lengthAdjust="spacingAndGlyphs">and/or through your keyword research, you already have a lot of</text>
<text x="620" y="485" class="b" textLength="571" lengthAdjust="spacingAndGlyphs">information. If you don't, try searching on demographic keywords,</text>
<text x="620" y="515" class="b" textLength="317" lengthAdjust="spacingAndGlyphs">and conducting more live interviews.</text>
<text x="620" y="572" class="b" textLength="563" lengthAdjust="spacingAndGlyphs">Be specific enough that you can visualize the persona, but not so</text>
<text x="620" y="599" class="b" textLength="439" lengthAdjust="spacingAndGlyphs">detailed that you limit who this persona applies to.</text>
<g transform="translate(75,42)">
<use href="#sq"/><use href="#pin" transform="translate(43,640)"/>
<text x="91" y="651" class="f" textLength="62" lengthAdjust="spacingAndGlyphs">8/9/2019</text>
<text x="567" y="651" class="f" textLength="66" lengthAdjust="spacingAndGlyphs">Personas</text>
<text x="1154" y="651" class="f" style="fill:#fff;font-weight:bold">9</text>
</g>
</g>
<text x="76" y="787" class="n">9</text>
<use href="#star" x="1258" y="769"/>
</g>

<!-- insertion marker -->
<g stroke="#c8401f" stroke-width="1" shape-rendering="crispEdges">
<line x1="447.5" y1="589" x2="447.5" y2="833"/>
<line x1="445" y1="589.5" x2="450" y2="589.5"/>
<line x1="445" y1="833.5" x2="450" y2="833.5"/>
</g>
</svg>
</body></html>
